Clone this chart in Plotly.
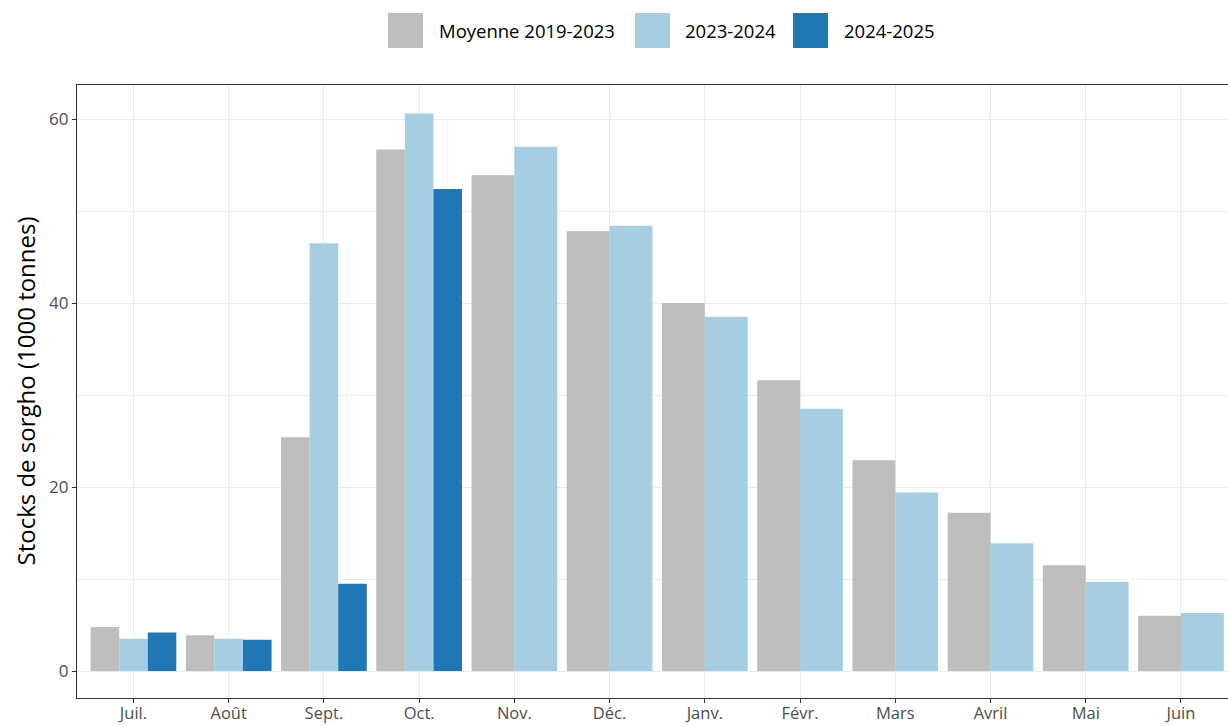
import plotly.graph_objects as go

months = ["Juil.", "Août", "Sept.", "Oct.", "Nov.", "Déc.", "Janv.", "Févr.", "Mars", "Avril", "Mai", "Juin"]
moyenne = [4.8, 3.9, 25.4, 56.7, 53.9, 47.8, 40.0, 31.6, 22.9, 17.2, 11.5, 6.0]
s_2023_2024 = [3.5, 3.5, 46.5, 60.6, 57.0, 48.4, 38.5, 28.5, 19.4, 13.9, 9.7, 6.3]
s_2024_2025 = [4.2, 3.4, 9.5, 52.4, None, None, None, None, None, None, None, None]

series_names = ["Moyenne 2019-2023", "2023-2024", "2024-2025"]
series_values = [moyenne, s_2023_2024, s_2024_2025]
colors = ["#BEBEBE", "#A6CEE3", "#1F78B4"]

FONT = "Open Sans"
W, H = 1228, 726
L, R, T, B = 77, 0, 85, 28
PW, PH = W - L - R, H - T - B


def px2x(px):
    return (px - L) / PW


def py2y(py):
    return (H - B - py) / PH


# ggplot-like dodge: width 0.9 shared among series present at each month
fig = go.Figure()
for si, (name, vals, col) in enumerate(zip(series_names, series_values, colors)):
    xs, ys, offs, wids = [], [], [], []
    for mi, m in enumerate(months):
        v = vals[mi]
        if v is None:
            continue
        present = [k for k in range(len(series_values)) if series_values[k][mi] is not None]
        n = len(present)
        w = 0.9 / n
        k = present.index(si)
        xs.append(m)
        ys.append(v)
        offs.append(-0.45 + k * w)
        wids.append(w)
    fig.add_trace(go.Bar(x=xs, y=ys, name=name, marker=dict(color=col, line=dict(width=0)),
                         offset=offs, width=wids, showlegend=False))

fig.update_layout(
    width=W, height=H,
    margin=dict(l=L, r=R, t=T, b=B, autoexpand=False),
    paper_bgcolor="white", plot_bgcolor="white",
    barmode="overlay",
    font=dict(family=FONT, color="#4D4D4D"),
    xaxis=dict(
        type="category", categoryorder="array", categoryarray=months,
        range=[-0.593, 11.494], automargin=False,
        showgrid=True, gridcolor="#EBEBEB", gridwidth=1.4,
        showline=True, linecolor="#333333", linewidth=1.2, mirror=True,
        ticks="outside", ticklen=4, tickcolor="#333333", tickwidth=1.1,
        ticklabelstandoff=-4,
        tickfont=dict(size=16.5, color="#4D4D4D", family=FONT),
        zeroline=False,
    ),
    yaxis=dict(
        range=[-2.93, 63.7], automargin=False,
        tickvals=[0, 20, 40, 60],
        showgrid=True, gridcolor="#EBEBEB", gridwidth=1.4,
        minor=dict(dtick=10, tick0=0, showgrid=True, gridcolor="#EBEBEB", gridwidth=0.8),
        showline=True, linecolor="#333333", linewidth=1.2, mirror=False,
        ticks="outside", ticklen=4, tickcolor="#333333", tickwidth=1.1,
        tickfont=dict(size=17, color="#4D4D4D", family=FONT),
        zeroline=False,
    ),
)

# y-axis title
fig.add_annotation(
    text="Stocks de sorgho (1000 tonnes)", textangle=-90,
    xref="paper", yref="paper", x=px2x(25), y=0.5,
    xanchor="center", yanchor="middle", showarrow=False,
    font=dict(size=24, color="#000000", family=FONT),
)

# legend (top, centered) drawn as swatches + labels
legend_swatch_x = [388, 635, 793]
legend_text_x = [437, 683, 842]
for name, col, sx, tx in zip(series_names, colors, legend_swatch_x, legend_text_x):
    fig.add_shape(type="rect", xref="paper", yref="paper",
                  x0=px2x(sx), x1=px2x(sx + 35), y0=py2y(48), y1=py2y(13),
                  fillcolor=col, line=dict(width=0), layer="above")
    fig.add_annotation(text=name, xref="paper", yref="paper",
                       x=px2x(tx), y=py2y(31), xanchor="left", yanchor="middle",
                       showarrow=False, font=dict(size=18.5, color="#000000", family=FONT))

fig.write_html("out.html", config={"displayModeBar": False},
               post_script="document.body.style.margin='0';document.body.style.padding='0';")
